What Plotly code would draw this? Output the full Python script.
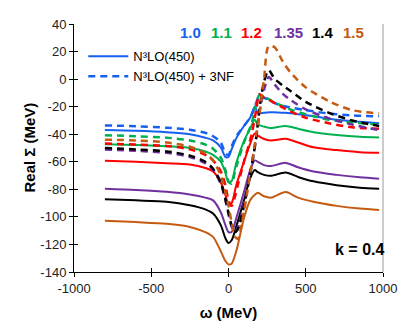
import plotly.graph_objects as go

# omega grids (MeV)
w_solid = [-800, -600, -400, -250, -150, -100, -50, -20, 0, 20, 50, 100, 140, 170, 190,
           230, 275, 370, 450, 550, 700, 850, 975]
w_dash = [-800, -600, -400, -250, -150, -100, -50, -20, 0, 20, 40, 60, 100, 150, 180,
          200, 230, 260, 300, 350, 400, 500, 650, 800, 975]

# N3LO(450) solid curves, Real Sigma (MeV)
s_10 = [-37, -37.5, -38.5, -40, -42.5, -44.5, -49.5, -56.5, -56.5, -51, -43, -34, -28, -20,
        -24.5, -24.5, -24, -24.5, -25.5, -27, -29.5, -31, -32]
s_11 = [-47.3, -47.8, -48.7, -50, -52.5, -55, -60, -68, -75, -74, -61, -45, -36, -29.5,
        -33, -34.5, -35.5, -34, -36, -38.5, -40.5, -41.8, -42.3]
s_12 = [-59.3, -60, -61, -62, -64.5, -67, -75, -84, -91, -90, -77, -60, -47, -39.5,
        -41, -43.5, -44.5, -43.3, -46, -49.5, -51.5, -53, -53.5]
s_135 = [-79.6, -80.5, -81.8, -83.7, -86, -88, -96.6, -106, -111, -111, -101, -82, -66, -59,
         -60, -62.4, -63.1, -60.8, -64, -67.1, -69.5, -71.3, -72.3]
s_14 = [-87.2, -88, -89, -91.5, -94.5, -97.5, -106, -115.5, -119, -117, -107, -88, -72, -66,
        -67.5, -69.5, -70.2, -67.8, -71, -74.2, -77, -78.8, -79.6]
s_15 = [-102.8, -103.8, -105, -107.3, -111, -114.5, -125, -132, -134.5, -134, -125, -101, -88,
        -84, -82.5, -85, -86, -82, -86, -89, -92, -94, -95]

# N3LO(450) + 3NF dashed curves
d_10 = [-33.6, -34.2, -35.3, -36.8, -39, -41.5, -46, -54, -55, -49, -44, -40, -34, -26, -17,
        -12, -13.5, -15, -17.5, -19.5, -20.5, -22.5, -25, -26.3, -27]
d_11 = [-40.7, -41.5, -42.5, -44.5, -47.5, -50.5, -57, -66, -74, -76, -68, -60, -46, -32, -18,
        -11.5, -13, -14.5, -17, -19.5, -22, -25.5, -29.5, -31.5, -33]
d_12 = [-46.8, -47.5, -48.5, -51, -55, -59, -67, -77, -88, -92, -86, -77, -60, -40, -22,
        -11, -13.5, -15, -17.5, -20.5, -23.5, -28, -32, -35, -36]
d_135 = [-51, -52, -53.5, -56.5, -61, -66, -76, -88, -98, -107, -111, -108, -90, -62, -42,
         -25, -8, 1.5, -4, -10.5, -15, -22, -28.5, -33, -37]
d_14 = [-50, -51, -52.5, -55.5, -60, -65, -75, -87, -97, -106, -111, -109, -92, -63, -42,
        -22, -2, 6.5, 0, -4.5, -8.5, -16.5, -24.5, -30, -34]
d_15 = [-44, -44.5, -46, -49, -54, -59, -70, -82, -92, -104, -114, -116, -96, -62, -40,
        -25, 0, 24, 23, 13, 5, -6, -16, -22.5, -25]

labels = ["1.0", "1.1", "1.2", "1.35", "1.4", "1.5"]
colors = ["#1560f0", "#00b050", "#ff0000", "#7030a0", "#000000", "#c55a11"]
solids = [s_10, s_11, s_12, s_135, s_14, s_15]
dashes = [d_10, d_11, d_12, d_135, d_14, d_15]
label_x = [-245, -45, 150, 390, 610, 810]

x_ticks = [-1000, -500, 0, 500, 1000]
y_ticks = list(range(-140, 41, 20))

fig = go.Figure()
for i, col in enumerate(colors):
    fig.add_trace(go.Scatter(
        x=w_solid, y=solids[i], mode="lines", name="N³LO(450)",
        line=dict(color=col, width=2, shape="spline", smoothing=0.8),
        showlegend=(i == 0)))
for i, col in enumerate(colors):
    fig.add_trace(go.Scatter(
        x=w_dash, y=dashes[i], mode="lines", name="N³LO(450) + 3NF",
        line=dict(color=col, width=2.5, dash="7px,5px", shape="spline", smoothing=0.8),
        showlegend=(i == 0)))
# invisible trace so the inner-tick overlay axes get drawn
fig.add_trace(go.Scatter(x=[None], y=[None], xaxis="x2", yaxis="y2",
                         showlegend=False, hoverinfo="skip"))

for lab, col, lx in zip(labels, colors, label_x):
    fig.add_annotation(x=lx, y=34, text=f"<b>{lab}</b>", showarrow=False,
                       font=dict(size=15, color=col))
fig.add_annotation(x=850, y=-124, text="<b>k = 0.4</b>", showarrow=False,
                   font=dict(size=16, color="black"))
# y title as annotation so it sits where the original has it
fig.add_annotation(xref="paper", yref="paper", x=0, y=0.5, xshift=-56,
                   text="<b>Real Σ (MeV)</b>", textangle=-90, showarrow=False,
                   font=dict(size=15, color="black"))

fig.add_shape(type="line", xref="paper", yref="paper", x0=1, x1=1, y0=0, y1=1,
              line=dict(color="#9a9a9a", width=1))

axis_font = dict(family="Arial, Liberation Sans", size=13, color="#222")
# page is drawn with an 8px body margin, so the figure is a bit smaller than the window
fig.update_layout(
    width=401, height=321,
    margin=dict(l=66, r=26, t=9, b=57),
    paper_bgcolor="white", plot_bgcolor="white",
    font=dict(family="Arial, Liberation Sans", color="black"),
    showlegend=True,
    legend=dict(x=0.03, y=0.93, xanchor="left", yanchor="top", bgcolor="rgba(0,0,0,0)",
                font=dict(size=13, family="Arial, Liberation Sans"), tracegroupgap=0,
                itemwidth=40),
    xaxis=dict(range=[-1000, 1000], tickvals=x_ticks,
               ticktext=[str(v) for v in x_ticks],
               showgrid=False, zeroline=False, showline=True, linecolor="black",
               linewidth=1, ticks="outside", ticklen=4, tickcolor="black",
               tickfont=axis_font,
               title=dict(text="<b>ω (MeV)</b>", font=dict(size=15), standoff=12)),
    yaxis=dict(range=[-140, 40], tickvals=y_ticks,
               ticktext=[str(v) for v in y_ticks],
               showgrid=False, zeroline=False, showline=True, linecolor="black",
               linewidth=1, ticks="outside", ticklen=4, tickcolor="black",
               tickfont=axis_font),
    xaxis2=dict(range=[-1000, 1000], tickvals=x_ticks, overlaying="x", side="bottom",
                showticklabels=False, showgrid=False, zeroline=False, showline=False,
                ticks="inside", ticklen=4, tickcolor="black"),
    yaxis2=dict(range=[-140, 40], tickvals=y_ticks, overlaying="y", side="left",
                showticklabels=False, showgrid=False, zeroline=False, showline=False,
                ticks="inside", ticklen=4, tickcolor="black"),
)

fig.write_html("out.html")
